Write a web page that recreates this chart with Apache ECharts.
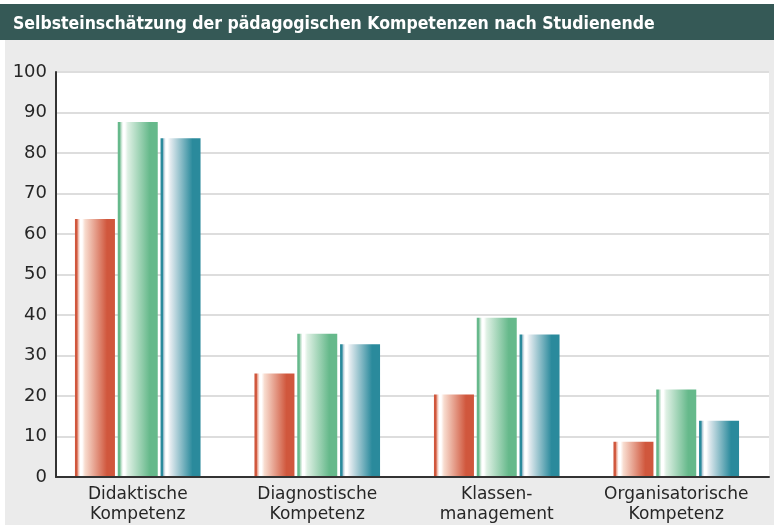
<!DOCTYPE html>
<html><head><meta charset="utf-8">
<script src="https://cdn.jsdelivr.net/npm/echarts@6/dist/echarts.min.js"></script>
<style>
html,body{margin:0;padding:0;background:#fff;}
#c{width:774px;height:525px;background:linear-gradient(to bottom,#fff 40px,transparent 40px),linear-gradient(to right,#fff 5px,#ebebeb 5px);}
</style></head>
<body><div id="c"></div>
<script>
const title = 'Selbsteinschätzung der pädagogischen Kompetenzen nach Studienende';
const categories = ['Didaktische\nKompetenz', 'Diagnostische\nKompetenz', 'Klassen-\nmanagement', 'Organisatorische\nKompetenz'];
const seriesRed = [63.6, 25.4, 20.2, 8.5];
const seriesGreen = [87.6, 35.2, 39.2, 21.4];
const seriesBlue = [83.6, 32.6, 35.0, 13.7];
const yTicks = [0, 10, 20, 30, 40, 50, 60, 70, 80, 90, 100];

function grad(c, light, mid) {
  return new echarts.graphic.LinearGradient(0, 0, 1, 0, [
    {offset: 0, color: c},
    {offset: 0.05, color: c},
    {offset: 0.08, color: light},
    {offset: 0.13, color: '#ffffff'},
    {offset: 0.18, color: '#ffffff'},
    {offset: 0.25, color: mid},
    {offset: 0.8, color: c},
    {offset: 1, color: c}
  ]);
}

const chart = echarts.init(document.getElementById('c'));
const font = 'DejaVu Sans';
chart.setOption({
  animation: false,
  title: {
    text: title, left: 8, top: 10,
    textStyle: {color: '#fff', fontSize: 17.5, fontWeight: 'bold', fontFamily: 'DejaVu Sans Condensed'}
  },
  graphic: [{type: 'rect', left: 0, top: 4, z: -1, shape: {width: 774, height: 36}, style: {fill: '#355956'}}],
  grid: [
    {left: 56, right: 5, top: 72, bottom: 48, show: true, backgroundColor: '#fff', borderWidth: 0},
    {left: 48, right: 8, top: 72, bottom: 48}
  ],
  xAxis: [
    {gridIndex: 0, type: 'value', min: 0, max: 1, axisLine: {show: true, lineStyle: {color: '#333', width: 2}},
     axisTick: {show: false}, axisLabel: {show: false}, splitLine: {show: false}},
    {gridIndex: 1, type: 'category', data: categories, axisLine: {show: false}, axisTick: {show: false},
     axisLabel: {interval: 0, hideOverlap: false, fontSize: 17, lineHeight: 20, color: '#262626', fontFamily: font, margin: 9}}
  ],
  yAxis: [
    {gridIndex: 0, type: 'value', min: 0, max: 100, interval: 10,
     axisLine: {show: true, lineStyle: {color: '#333', width: 2}}, axisTick: {show: false},
     axisLabel: {fontSize: 18, color: '#262626', fontFamily: font, margin: 9,
       formatter: v => yTicks.includes(v) ? String(v) : ''},
     splitLine: {show: true, lineStyle: {color: '#dddddd', width: 2}}},
    {gridIndex: 1, type: 'value', min: 0, max: 100, show: false}
  ],
  series: [
    {type: 'bar', xAxisIndex: 1, yAxisIndex: 1, data: seriesRed, barWidth: 40, barGap: '7%',
     itemStyle: {color: grad('#d0573d', '#eeb3a2', '#f8dccf')}},
    {type: 'bar', xAxisIndex: 1, yAxisIndex: 1, data: seriesGreen, barWidth: 40, barGap: '7%',
     itemStyle: {color: grad('#66b98b', '#b5dcc4', '#def0e4')}},
    {type: 'bar', xAxisIndex: 1, yAxisIndex: 1, data: seriesBlue, barWidth: 40, barGap: '7%',
     itemStyle: {color: grad('#2a8a9c', '#b7cbd7', '#e2eaef')}}
  ]
});
</script></body></html>
